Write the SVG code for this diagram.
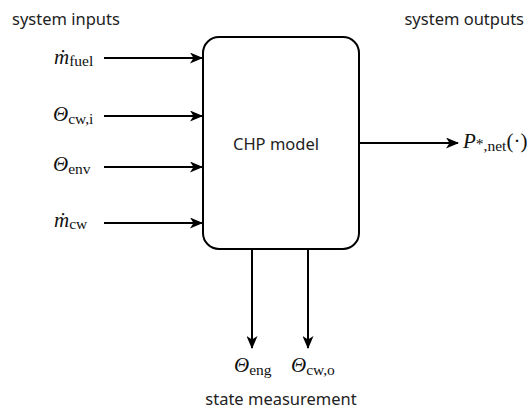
<svg xmlns="http://www.w3.org/2000/svg" width="532" height="414" viewBox="0 0 532 414">
<style>
.t{font-family:"Noto Sans","Open Sans",sans-serif;font-size:16.5px;fill:#222}
.m{font-family:"Liberation Serif","DejaVu Serif",serif;font-size:21px;font-style:italic;fill:#111}
.s{font-style:normal;font-size:15.5px}
.c{stroke:#000;stroke-width:2;fill:none}
</style>
<defs>
<marker id="ah" markerWidth="13" markerHeight="11" refX="12" refY="5.5" orient="auto" markerUnits="userSpaceOnUse">
<path d="M0,0 L13,5.5 L0,11 L3.5,5.5 z" fill="#000"/>
</marker>
</defs>
<text class="t" x="12" y="25">system inputs</text>
<text class="t" x="524" y="25" text-anchor="end">system outputs</text>
<g id="chp">
<rect x="203" y="37" width="156" height="212" rx="16" fill="#fff" stroke="#000" stroke-width="2"/>
<text class="t" x="276" y="150" text-anchor="middle">CHP model</text>
</g>
<g id="in-fuel"><text class="m" x="54" y="64">ṁ<tspan class="s" dy="2">fuel</tspan></text></g>
<g id="in-cwi"><text class="m" x="53" y="121">Θ<tspan class="s" dy="3">cw,i</tspan></text></g>
<g id="in-env"><text class="m" x="53" y="171">Θ<tspan class="s" dy="3">env</tspan></text></g>
<g id="in-cw"><text class="m" x="54" y="227">ṁ<tspan class="s" dy="2">cw</tspan></text></g>
<g id="out-p"><text class="m" x="463" y="148">P<tspan class="s" font-size="11" dy="1">*</tspan><tspan class="s" dy="2">,net</tspan><tspan style="font-style:normal" dy="-3">(·)</tspan></text></g>
<g id="meas-eng"><text class="m" x="234" y="372">Θ<tspan class="s" dy="3">eng</tspan></text></g>
<g id="meas-cwo"><text class="m" x="291" y="372">Θ<tspan class="s" dy="3">cw,o</tspan></text></g>
<text class="t" x="281" y="405" text-anchor="middle">state measurement</text>
<g id="connectors">
<line class="c" x1="104" y1="58" x2="202" y2="58" marker-end="url(#ah)"/>
<line class="c" x1="104" y1="116" x2="202" y2="116" marker-end="url(#ah)"/>
<line class="c" x1="104" y1="167" x2="202" y2="167" marker-end="url(#ah)"/>
<line class="c" x1="104" y1="223" x2="202" y2="223" marker-end="url(#ah)"/>
<line class="c" x1="360" y1="143" x2="458" y2="143" marker-end="url(#ah)"/>
<line class="c" x1="252" y1="250" x2="252" y2="348" marker-end="url(#ah)"/>
<line class="c" x1="308" y1="250" x2="308" y2="348" marker-end="url(#ah)"/>
</g>
</svg>
